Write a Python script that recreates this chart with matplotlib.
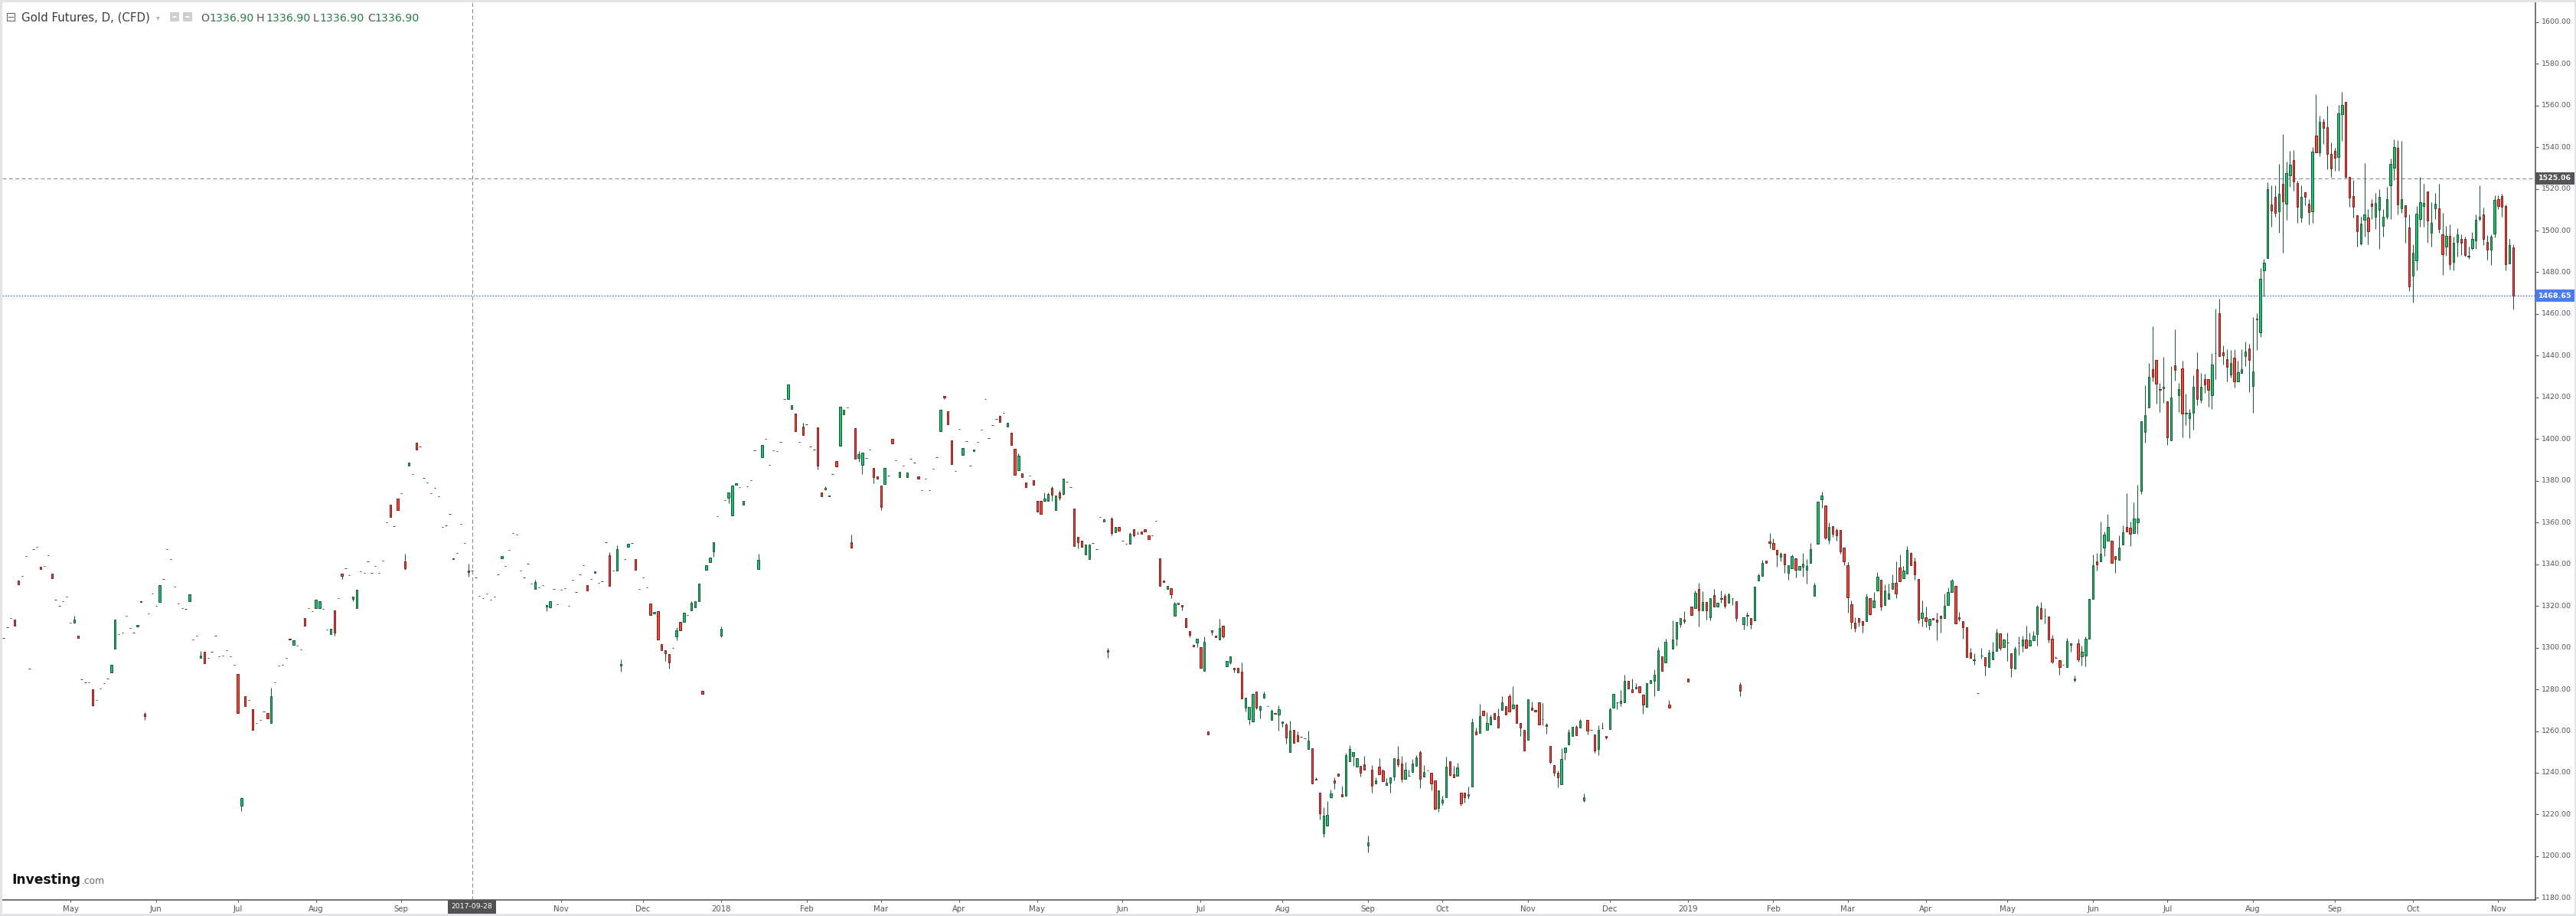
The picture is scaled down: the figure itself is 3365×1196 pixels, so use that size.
import numpy as np
import pandas as pd
import matplotlib
matplotlib.use("Agg")
import matplotlib.pyplot as plt
from matplotlib.patches import Rectangle, Circle
from matplotlib.transforms import Bbox, TransformedBbox

W, H = 3366, 1196

first_day = "2017-04-05"
skipped_days = ["2018-03-30"]      # weekday without a bar
crosshair_day = "2017-09-28"
crosshair_price = 1525.06
symbol = "Gold Futures, D, (CFD)"
y_ticks = list(range(1180, 1601, 20))

# one entry per daily bar: a number is a flat bar, (open, close) has no wicks,
# (open, high, low, close) is a full candle
ohlc_2017 = [
    1304.8, 1309.6, 1314.0, (1313.3, 1310.6), (1332.0, 1330.4), 1334.5, 1343.8, 1289.8, 1347.1, 1348.2,
    (1338.6, 1337.8), 1339.0, 1344.2, (1335.3, 1333.1), 1323.1, 1320.2, 1322.1, 1324.4, 1311.8,
    (1311.8, 1315.1, 1311.8, 1313.3), (1305.9, 1304.8), 1284.7, 1283.2, 1283.2,
    (1279.9, 1279.9, 1272.0, 1272.4), 1274.7, 1280.3, 1282.8, 1285.3, (1288.2, 1291.6),
    (1299.6, 1313.3), 1306.3, 1307.1, 1315.1, 1309.3, 1307.1, (1310.2, 1310.9), (1322.3, 1322.0),
    (1268.2, 1269.0, 1265.5, 1267.0), 1316.2, 1325.8, 1320.2, (1322.0, 1330.1), 1332.8, 1347.1,
    1342.6, 1329.1, 1321.0, 1318.8, 1318.5, (1322.4, 1325.4), 1304.0, 1305.9,
    (1295.2, 1298.4, 1295.2, 1296.3), (1297.9, 1292.5), 1295.0, 1298.2, 1305.6, 1295.7, 1296.3,
    1298.6, 1295.7, 1291.9, (1287.3, 1268.8), (1224.2, 1228.2, 1221.8, 1227.8), (1276.6, 1271.8),
    1274.7, (1270.3, 1260.4), 1263.7, 1265.5, 1269.3, (1268.5, 1266.1),
    (1264.0, 1280.6, 1264.0, 1276.6), 1283.2, 1291.3, 1291.7, 1295.0, (1304.1, 1303.9),
    (1301.4, 1303.4), 1301.1, 1299.0, (1314.0, 1310.4), 1319.1, 1317.3, (1318.8, 1323.1),
    (1318.8, 1322.4), 1318.5, 1308.5, (1306.3, 1308.9), (1317.7, 1317.7, 1305.6, 1307.3), 1323.9,
    (1335.3, 1335.3, 1332.8, 1334.5), 1338.2, 1334.9, (1323.4, 1324.3, 1322.1, 1324.3),
    (1318.8, 1327.6), 1336.6, 1335.7, 1341.2, 1335.7, 1339.0, 1336.0, 1341.9, 1360.0,
    (1368.7, 1362.8), 1358.1, (1371.3, 1365.8), 1374.2, (1341.2, 1344.9, 1337.4, 1338.2),
    (1387.4, 1388.6), 1383.1, (1398.2, 1395.1), 1396.6, 1381.2, 1379.0, 1373.9, 1376.5, 1372.4,
    1357.8, 1358.5, 1364.0, (1342.4, 1342.8), 1345.3, 1359.2, 1350.0,
    (1336.9, 1340.3, 1334.1, 1336.3), 1336.9, 1333.5, 1324.7, 1323.6, 1325.9, 1322.9, 1324.3,
    1335.0, (1342.7, 1343.8), 1339.0, 1346.7, 1354.8, 1354.1, 1336.8, 1333.5, 1340.1, 1330.6,
    (1328.0, 1332.5, 1328.0, 1331.3), 1328.7, 1329.8, (1319.6, 1320.3, 1317.6, 1320.3),
    (1319.2, 1322.1), 1328.0, 1320.7, 1327.6, 1328.4, 1319.9, 1332.4, 1326.5, 1335.0, 1339.4,
    (1329.8, 1327.3), 1332.8, (1335.7, 1336.4), 1331.0, 1331.7, 1350.4,
    (1344.2, 1345.6, 1329.5, 1329.5), 1336.8, (1336.8, 1348.9, 1336.8, 1347.1),
    (1291.3, 1294.4, 1288.4, 1292.0), 1342.3, (1348.2, 1349.7), 1350.0, (1342.3, 1337.2), 1328.0,
    1333.5, 1328.7, (1321.0, 1315.8), (1316.3, 1317.0), (1317.4, 1303.8), (1301.7, 1298.9),
    (1298.6, 1298.6, 1293.7, 1297.4), (1296.9, 1296.9, 1289.8, 1292.8), 1299.7,
    (1305.5, 1309.8, 1303.7, 1308.2), (1312.4, 1308.2), (1312.2, 1316.6), 1315.5,
    (1318.0, 1322.3, 1318.0, 1321.4), (1319.4, 1322.1), (1322.1, 1330.6), (1279.2, 1278.0),
    (1337.2, 1339.4), (1341.1, 1343.1), (1346.0, 1350.4, 1343.7, 1350.4), 1362.9,
]

ohlc_2018_a = [
    (1305.9, 1310.0, 1305.0, 1308.9), 1370.6, (1371.9, 1374.3, 1369.4, 1374.3), (1363.5, 1377.6),
    (1378.0, 1378.7), 1376.9, (1368.4, 1370.2), 1377.2, 1380.2, 1394.5,
    (1337.6, 1344.9, 1337.6, 1342.0), (1391.2, 1397.0), 1400.0, 1387.5, 1394.5, 1394.1, 1398.5,
    1419.1, (1419.1, 1426.1), (1414.3, 1416.1), (1412.1, 1403.7), 1398.5,
    (1405.9, 1407.7, 1401.8, 1401.8), 1407.0, 1396.3, 1394.8, (1405.5, 1405.5, 1385.5, 1387.1),
    (1374.3, 1372.4), (1376.0, 1377.2, 1375.4, 1376.5), (1372.9, 1372.7), 1383.1, (1389.3, 1387.0),
    (1396.9, 1415.5), (1412.0, 1413.9), 1415.0, (1350.4, 1354.2, 1347.8, 1347.8), (1405.1, 1390.4),
    (1390.8, 1394.2, 1389.2, 1392.6), (1387.5, 1393.4, 1383.3, 1393.4), 1390.8, 1394.8,
    (1386.0, 1386.0, 1378.9, 1381.6), (1382.0, 1380.9), (1377.6, 1377.6, 1366.1, 1367.5),
    (1378.3, 1386.0), 1382.4, (1400.0, 1397.8), 1389.7, (1381.6, 1384.2), 1387.1, (1381.6, 1383.8),
    1390.4, 1388.6, (1382.0, 1380.9), 1375.4, 1380.9, 1375.4, 1385.7, 1391.2, (1403.7, 1413.9),
    (1420.5, 1420.5, 1419.3, 1419.9), (1413.2, 1407.0), (1399.2, 1387.9), 1384.8, 1404.8,
    (1392.3, 1395.6), 1398.9, 1387.1, (1394.1, 1394.8), (1398.8, 1398.5), 1404.4, 1419.1, 1400.4,
    1406.6, 1409.5, (1411.0, 1408.1), 1412.5, (1405.9, 1407.7), (1402.9, 1397.0), (1395.2, 1382.7),
    (1384.9, 1393.1, 1384.9, 1391.9), (1383.5, 1381.6), (1379.1, 1376.9), 1382.4, (1380.2, 1378.0),
    (1370.2, 1365.1), (1370.2, 1364.0), (1370.2, 1374.3, 1370.2, 1371.3),
    (1370.2, 1374.3, 1370.2, 1373.5), (1376.5, 1377.3, 1370.2, 1373.2), (1365.8, 1372.8),
    (1374.3, 1375.4, 1370.9, 1371.7), (1373.5, 1380.9, 1373.2, 1380.9), 1379.4, 1376.9,
    (1366.6, 1348.6), (1353.0, 1353.0, 1347.5, 1350.4), (1351.1, 1348.2), (1344.5, 1349.3),
    (1342.3, 1349.3), 1350.0, 1347.4, 1362.5, (1360.3, 1362.0, 1360.3, 1361.4),
    (1298.6, 1299.7, 1295.2, 1297.9), (1361.8, 1362.5, 1353.7, 1354.8), (1355.2, 1357.8),
    (1357.8, 1355.9), 1351.1, 1349.7, (1349.7, 1355.2, 1349.7, 1354.4),
    (1356.7, 1356.7, 1353.0, 1353.7), (1354.4, 1355.6, 1354.4, 1354.4), (1355.6, 1354.4),
    (1356.7, 1355.6), (1353.7, 1351.9), 1353.7, 1360.7, (1342.7, 1329.5), (1332.1, 1331.3),
    (1328.0, 1329.5), (1328.4, 1328.4, 1323.6, 1325.4), (1315.2, 1321.8, 1315.2, 1321.0),
    (1320.7, 1321.4), (1320.3, 1320.3, 1317.7, 1319.6), (1314.1, 1309.7),
    (1307.8, 1307.8, 1304.9, 1306.0), (1301.2, 1300.5), (1302.3, 1304.1, 1300.2, 1304.1),
    (1300.1, 1290.2),
]

ohlc_2018_b = [
    (1288.7, 1305.2, 1288.7, 1302.7), (1260.0, 1258.5), (1308.2, 1308.2, 1306.0, 1307.6),
    (1305.7, 1305.0), (1303.8, 1313.7, 1303.8, 1309.3), (1310.4, 1310.4, 1304.5, 1305.2),
    (1290.9, 1293.5), (1292.8, 1295.7, 1292.0, 1295.7), (1290.2, 1290.2, 1288.2, 1289.7),
    (1290.2, 1288.2), (1288.4, 1292.9, 1275.5, 1275.5), (1271.3, 1275.9, 1269.5, 1275.9),
    (1265.8, 1271.5, 1263.3, 1271.5), (1264.7, 1277.8), (1278.8, 1278.8, 1270.6, 1271.3),
    (1270.2, 1272.2, 1266.2, 1271.8), (1275.9, 1278.9, 1275.5, 1277.7), 1271.8,
    (1265.2, 1270.4, 1265.2, 1269.6), (1268.6, 1268.2), (1268.0, 1272.2, 1260.3, 1270.4),
    (1263.8, 1264.5, 1262.2, 1264.5), (1263.0, 1264.0, 1254.1, 1256.8),
    (1249.8, 1264.9, 1249.8, 1260.1), (1260.4, 1254.2), (1257.9, 1259.7, 1254.9, 1254.9), 1257.4,
    1256.4, (1251.3, 1260.3, 1251.3, 1255.3), (1251.6, 1234.8), (1236.9, 1237.7, 1236.6, 1236.6),
    (1230.3, 1230.3, 1217.7, 1220.4), (1211.1, 1223.5, 1209.0, 1219.4),
    (1214.5, 1226.4, 1214.5, 1219.8), (1228.1, 1231.9, 1227.8, 1230.0),
    (1236.2, 1237.8, 1232.1, 1235.1), (1239.5, 1239.5, 1238.1, 1238.4),
    (1229.6, 1233.6, 1228.5, 1228.5), (1228.9, 1249.4, 1228.9, 1248.3),
    (1245.4, 1253.1, 1245.4, 1251.3), (1248.0, 1249.8, 1243.2, 1249.8), (1242.8, 1246.9),
    (1243.2, 1243.2, 1238.1, 1239.9), (1243.9, 1248.0, 1241.4, 1241.4),
    (1205.0, 1209.8, 1201.7, 1206.5), (1241.4, 1243.6, 1230.6, 1233.6),
    (1234.8, 1237.7, 1234.8, 1236.2), (1242.8, 1246.9, 1239.2, 1239.2),
    (1241.0, 1241.7, 1235.8, 1235.8), (1234.0, 1237.3, 1234.0, 1235.1),
    (1235.1, 1237.7, 1230.6, 1237.7), (1238.1, 1246.9, 1236.2, 1246.9),
    (1246.5, 1252.7, 1242.8, 1243.9), (1244.3, 1248.0, 1235.5, 1236.9),
    (1236.9, 1245.0, 1236.9, 1241.4), (1238.4, 1241.4, 1238.4, 1238.4),
    (1240.3, 1246.5, 1240.3, 1244.3), (1243.2, 1248.3, 1243.2, 1247.2),
    (1249.9, 1250.5, 1232.5, 1236.9), (1238.1, 1243.6, 1238.1, 1240.3), 1241.0,
    (1239.9, 1239.9, 1231.4, 1234.8), (1236.2, 1236.2, 1222.3, 1222.6),
    (1223.0, 1231.4, 1221.2, 1231.4), (1225.6, 1228.9, 1224.5, 1227.0),
    (1228.1, 1247.6, 1228.1, 1242.8), (1245.4, 1245.4, 1238.4, 1238.8),
    (1239.2, 1243.2, 1237.7, 1237.7), (1238.4, 1244.7, 1238.4, 1242.5),
    (1230.3, 1230.3, 1224.1, 1225.2), (1230.3, 1230.3, 1225.6, 1228.1),
    (1228.9, 1233.3, 1227.4, 1229.6), (1233.3, 1265.9, 1233.3, 1264.1),
    (1259.7, 1261.5, 1258.2, 1258.2), (1259.0, 1272.9, 1259.0, 1267.1), (1269.6, 1267.4),
    (1260.4, 1268.9, 1260.4, 1263.8), (1263.0, 1267.8, 1263.0, 1266.7), (1268.5, 1265.6),
    (1267.1, 1270.7, 1261.6, 1261.6), (1270.0, 1276.6, 1270.0, 1273.7), (1271.8, 1267.8),
    (1276.6, 1277.7, 1269.3, 1269.3), (1270.7, 1281.4, 1270.7, 1272.6), (1272.6, 1263.8),
    (1263.8, 1263.8, 1257.8, 1261.6), (1260.4, 1250.7), (1255.7, 1275.1),
    (1271.1, 1274.0, 1270.0, 1270.0), (1270.0, 1269.3), (1273.7, 1263.0),
    (1265.6, 1273.3, 1262.7, 1265.6), (1263.0, 1263.8, 1258.6, 1262.3),
    (1252.7, 1252.7, 1244.3, 1245.0), (1243.6, 1243.6, 1238.4, 1239.9),
    (1239.9, 1241.0, 1232.9, 1237.7), (1234.4, 1251.6, 1234.4, 1246.5),
    (1249.8, 1252.0, 1246.1, 1252.0), (1253.5, 1260.8, 1253.5, 1259.3), (1257.5, 1261.9),
    (1261.9, 1262.7, 1257.9, 1257.9), (1261.6, 1265.6, 1261.6, 1264.9),
    (1226.7, 1230.0, 1225.9, 1228.1), (1265.2, 1265.2, 1258.2, 1260.1), (1260.6, 1260.4),
    (1258.2, 1258.2, 1249.4, 1250.5), (1251.3, 1262.7, 1248.3, 1260.4),
    (1261.4, 1264.1, 1261.2, 1261.2), (1257.5, 1257.5, 1256.0, 1256.8),
    (1260.8, 1271.1, 1260.8, 1270.4), (1271.1, 1277.7), (1273.7, 1273.7, 1270.4, 1273.7),
    (1273.3, 1279.5, 1271.8, 1274.4), (1273.7, 1286.9, 1273.7, 1284.0), (1284.0, 1280.3),
    (1279.9, 1285.1, 1278.4, 1278.4), (1280.3, 1282.8, 1280.3, 1281.0), (1281.4, 1278.4),
    (1277.3, 1277.3, 1268.2, 1272.6), (1271.5, 1282.8), (1282.8, 1284.3),
    (1284.0, 1289.5, 1276.6, 1286.9), (1279.5, 1300.1, 1279.5, 1298.6), (1295.7, 1288.7),
    (1292.8, 1304.1, 1292.8, 1302.7), (1272.6, 1274.8, 1271.1, 1271.1),
    (1299.4, 1313.0, 1299.4, 1303.8), (1304.2, 1312.2, 1300.8, 1312.2),
    (1311.1, 1314.1, 1309.7, 1314.1), (1313.3, 1317.4, 1311.5, 1312.6), (1285.1, 1283.6),
]

ohlc_2019 = [
    (1319.8, 1315.5), (1318.8, 1327.3, 1318.8, 1326.2), (1328.0, 1331.0, 1310.0, 1317.7),
    (1317.7, 1326.9, 1317.7, 1321.8), (1321.8, 1321.8, 1313.3, 1317.7),
    (1314.4, 1323.6, 1313.0, 1323.6), (1325.1, 1328.0, 1319.6, 1319.6), (1319.6, 1321.4),
    (1323.2, 1327.3, 1321.4, 1323.6), (1324.7, 1325.8, 1318.8, 1319.9),
    (1321.4, 1326.2, 1321.4, 1325.4), (1323.6, 1323.6, 1320.3, 1323.6),
    (1322.1, 1322.1, 1312.6, 1314.1), (1282.1, 1283.2, 1276.6, 1279.2),
    (1311.1, 1314.4, 1308.6, 1314.4), (1315.3, 1317.0, 1310.4, 1315.5),
    (1314.1, 1314.1, 1308.9, 1311.1), (1313.0, 1329.1), (1332.1, 1335.4, 1332.1, 1334.6),
    (1334.3, 1342.0, 1334.3, 1340.5), (1341.6, 1340.5), (1350.8, 1354.8, 1347.5, 1350.1),
    (1350.1, 1352.3, 1347.1, 1347.1), (1346.7, 1346.7, 1338.7, 1344.5),
    (1343.4, 1345.6, 1341.2, 1344.9), (1344.9, 1344.9, 1335.7, 1339.8),
    (1335.7, 1339.4, 1332.4, 1339.4), (1337.9, 1344.5, 1337.9, 1343.8),
    (1342.7, 1342.7, 1333.5, 1337.2), (1337.2, 1339.0), (1338.7, 1345.3, 1333.9, 1340.1),
    (1337.2, 1342.3, 1330.6, 1339.0), (1340.5, 1350.1, 1340.5, 1347.1),
    (1324.7, 1331.0, 1324.7, 1329.9), (1349.7, 1369.9), (1371.2, 1374.7, 1366.9, 1372.8),
    (1368.0, 1368.0, 1351.9, 1352.6), (1351.5, 1360.0, 1349.7, 1357.8),
    (1358.1, 1358.1, 1353.0, 1354.5), (1356.3, 1357.0, 1351.2, 1353.7),
    (1356.3, 1356.3, 1344.9, 1346.0), (1347.8, 1347.8, 1339.4, 1341.2),
    (1339.4, 1340.9, 1316.6, 1324.0), (1320.7, 1322.5, 1308.9, 1312.2),
    (1311.9, 1314.4, 1307.5, 1309.3), (1314.1, 1314.1, 1310.0, 1312.2),
    (1312.6, 1312.6, 1307.1, 1310.8), (1312.6, 1325.8, 1312.6, 1324.3),
    (1323.6, 1323.6, 1315.5, 1315.9), (1319.2, 1326.6, 1319.2, 1322.5),
    (1327.3, 1336.1, 1327.3, 1333.9), (1332.4, 1332.4, 1317.7, 1319.6),
    (1320.3, 1330.2, 1320.3, 1327.3), (1323.2, 1330.6, 1323.2, 1325.8),
    (1328.0, 1335.0, 1328.0, 1331.0), (1331.0, 1341.2, 1323.6, 1325.8),
    (1338.3, 1344.5, 1331.7, 1331.7), (1333.2, 1339.0, 1333.2, 1336.8),
    (1335.4, 1348.6, 1335.4, 1346.7), (1345.3, 1345.6, 1339.4, 1339.4),
    (1341.2, 1343.1, 1332.4, 1335.0), (1332.8, 1332.8, 1311.5, 1313.3),
    (1314.1, 1322.5, 1310.0, 1316.6), (1314.4, 1319.6, 1309.7, 1312.6),
    (1310.8, 1313.7, 1308.6, 1313.7), (1314.1, 1313.3), (1313.3, 1316.6, 1303.4, 1312.2),
    (1315.2, 1315.2, 1307.1, 1314.1), (1314.1, 1325.8, 1314.1, 1319.9),
    (1320.3, 1328.8, 1320.3, 1326.6), (1326.6, 1332.8, 1326.6, 1332.1), (1329.5, 1311.5),
    (1314.4, 1317.0, 1312.6, 1313.7), (1312.6, 1312.6, 1304.2, 1309.7), (1309.7, 1295.3),
    (1297.6, 1299.7, 1295.0, 1295.0), (1294.0, 1297.2, 1291.7, 1294.2), 1278.1,
    (1296.0, 1299.7, 1294.6, 1296.1), (1295.3, 1295.3, 1286.5, 1291.3),
    (1290.6, 1299.0, 1290.6, 1297.6), (1294.2, 1302.7, 1294.2, 1297.9),
    (1298.3, 1308.9, 1298.3, 1307.1), (1306.7, 1306.7, 1298.6, 1299.7),
    (1300.1, 1304.2, 1300.1, 1303.8), (1302.5, 1307.1, 1293.5, 1302.3),
    (1297.2, 1297.2, 1285.8, 1290.2), (1289.8, 1300.5, 1289.8, 1299.4),
    (1302.5, 1305.3, 1296.4, 1302.3), (1300.8, 1305.6, 1297.9, 1303.8),
    (1303.8, 1310.4, 1299.7, 1299.7), (1300.8, 1307.1, 1300.8, 1303.4),
    (1303.4, 1307.8, 1303.4, 1305.6), (1306.4, 1320.3, 1300.8, 1319.6),
    (1318.8, 1321.8, 1313.7, 1313.7), (1315.2, 1318.9, 1311.5, 1315.2),
    (1314.8, 1314.8, 1302.3, 1303.8), (1304.2, 1306.0, 1292.4, 1293.1),
    (1295.2, 1295.7, 1295.0, 1295.0), (1293.9, 1293.9, 1286.9, 1290.6), 1291.7,
    (1290.6, 1304.5, 1290.6, 1303.0), (1301.2, 1302.3, 1297.9, 1301.9),
    (1284.3, 1286.5, 1283.8, 1285.1), (1301.9, 1304.2, 1293.4, 1294.5),
    (1295.9, 1301.1, 1291.5, 1298.2), (1296.3, 1305.5, 1291.1, 1304.2), (1304.4, 1323.2),
    (1323.2, 1344.5, 1323.2, 1339.5), (1341.4, 1345.3, 1336.8, 1339.9),
    (1341.2, 1360.6, 1341.2, 1345.1), (1348.0, 1355.8, 1344.1, 1354.3),
    (1351.4, 1364.1, 1351.4, 1357.9), (1351.4, 1340.8), (1343.9, 1343.9, 1335.7, 1342.6),
    (1342.2, 1353.9, 1342.2, 1348.1), (1349.3, 1358.7, 1349.3, 1355.2),
    (1357.9, 1374.1, 1355.6, 1355.6), (1357.5, 1360.6, 1348.7, 1354.5),
    (1354.8, 1369.8, 1354.8, 1362.1), (1360.2, 1377.9, 1354.5, 1361.8),
    (1375.2, 1408.6, 1373.7, 1408.6), (1403.4, 1425.9, 1398.4, 1411.5),
    (1415.0, 1436.5, 1415.0, 1429.8), (1433.6, 1454.2, 1427.5, 1429.9),
    (1438.0, 1438.0, 1416.9, 1426.5), (1423.8, 1426.9, 1413.1, 1423.6),
    (1424.4, 1439.4, 1417.3, 1425.1), (1418.2, 1418.2, 1397.1, 1401.0),
    (1399.4, 1435.1, 1399.4, 1419.8), (1435.5, 1452.8, 1428.0, 1433.0),
    (1421.1, 1426.9, 1413.1, 1423.8), (1434.0, 1437.5, 1401.0, 1412.1),
    (1412.3, 1421.7, 1406.7, 1412.5), (1410.0, 1414.4, 1400.4, 1412.5),
    (1412.5, 1430.7, 1404.4, 1425.0), (1433.4, 1441.7, 1416.3, 1419.2),
    (1418.8, 1431.7, 1417.3, 1425.0), (1428.8, 1431.5, 1422.1, 1426.3),
    (1428.8, 1428.8, 1415.4, 1423.6), (1421.1, 1441.3, 1414.4, 1435.9),
    (1441.1, 1462.4, 1428.8, 1441.3), (1460.5, 1467.2, 1439.8, 1439.8),
    (1441.7, 1444.8, 1435.9, 1440.0), (1438.4, 1443.2, 1427.8, 1434.6),
    (1431.1, 1442.6, 1429.4, 1436.5), (1439.2, 1443.2, 1424.6, 1427.5),
    (1427.5, 1437.5, 1427.5, 1432.1), (1431.7, 1443.2, 1431.7, 1433.6),
    (1439.8, 1446.7, 1435.1, 1442.1), (1443.6, 1445.5, 1422.5, 1437.8),
    (1425.5, 1458.6, 1412.5, 1432.6), (1457.4, 1460.5, 1442.8, 1457.6),
    (1451.3, 1482.0, 1449.0, 1476.8), (1481.0, 1486.4, 1468.6, 1484.5),
    (1486.8, 1523.3, 1486.8, 1519.7), (1512.4, 1521.6, 1501.8, 1509.5),
    (1516.2, 1521.6, 1506.6, 1508.5), (1509.1, 1531.9, 1498.9, 1517.5),
    (1522.4, 1546.3, 1489.3, 1514.1), (1512.9, 1533.1, 1505.3, 1527.7),
    (1526.4, 1538.1, 1521.0, 1531.6), (1533.9, 1538.7, 1519.1, 1523.5),
    (1522.9, 1523.9, 1503.7, 1511.4), (1506.4, 1521.6, 1504.1, 1516.2),
    (1518.5, 1518.5, 1512.0, 1516.2), (1512.7, 1515.2, 1502.8, 1508.7),
    (1509.1, 1540.2, 1503.7, 1537.7), (1545.4, 1565.4, 1537.3, 1537.3),
    (1537.3, 1555.0, 1535.8, 1552.1), (1552.1, 1553.7, 1541.6, 1549.2),
    (1549.6, 1560.0, 1529.3, 1536.9), (1536.9, 1542.1, 1525.8, 1529.6),
    (1538.3, 1539.6, 1528.5, 1535.0), (1535.4, 1560.4, 1528.5, 1556.1),
    (1555.9, 1566.5, 1543.1, 1560.4), (1561.7, 1561.7, 1525.4, 1525.6),
    (1525.8, 1525.8, 1511.4, 1515.8), (1516.6, 1524.3, 1506.2, 1511.4),
    (1507.2, 1507.2, 1492.2, 1499.5), (1493.7, 1506.6, 1493.1, 1503.3),
    (1505.3, 1532.3, 1497.0, 1507.6), (1506.2, 1510.4, 1493.5, 1499.5),
    (1512.9, 1515.0, 1505.4, 1511.8), (1506.6, 1518.1, 1500.8, 1513.3),
    (1509.8, 1520.0, 1491.2, 1516.2), (1502.2, 1510.4, 1497.0, 1506.6),
    (1506.6, 1521.0, 1505.6, 1515.2), (1521.6, 1534.4, 1505.6, 1531.9),
    (1530.0, 1543.7, 1524.2, 1540.2), (1539.8, 1543.5, 1507.6, 1512.4),
    (1510.8, 1543.1, 1508.5, 1515.2), (1512.0, 1512.0, 1494.1, 1506.6),
    (1501.6, 1507.6, 1470.9, 1473.2), (1478.4, 1493.5, 1465.3, 1489.3),
    (1485.5, 1511.8, 1481.0, 1508.0), (1505.6, 1525.8, 1501.8, 1513.7),
    (1511.6, 1522.3, 1501.8, 1513.1), (1518.7, 1518.7, 1494.1, 1504.7),
    (1498.9, 1513.7, 1492.4, 1503.7), (1510.8, 1518.1, 1505.6, 1512.7),
    (1510.8, 1522.3, 1498.9, 1500.8), (1498.3, 1508.5, 1478.7, 1488.7),
    (1492.2, 1502.2, 1487.8, 1497.6), (1497.6, 1503.1, 1481.2, 1483.9),
    (1484.9, 1497.0, 1481.0, 1494.1), (1494.5, 1501.2, 1487.4, 1498.3),
    (1496.0, 1498.3, 1488.3, 1494.1), (1496.0, 1497.0, 1487.4, 1488.1),
    (1487.6, 1492.2, 1486.4, 1487.8), (1491.6, 1499.3, 1490.7, 1496.0),
    (1495.1, 1507.6, 1491.2, 1505.1), (1505.4, 1521.6, 1504.7, 1506.6),
    (1507.6, 1511.2, 1493.2, 1496.0), (1494.5, 1497.9, 1486.2, 1490.7),
    (1490.7, 1498.3, 1483.6, 1497.0), (1498.5, 1517.0, 1496.6, 1514.8),
    (1515.2, 1517.0, 1510.4, 1511.8), (1516.6, 1517.6, 1506.6, 1511.4),
    (1511.8, 1512.4, 1481.0, 1483.9), (1484.3, 1496.0, 1484.3, 1493.1),
    (1492.0, 1493.5, 1462.0, 1468.65),
]

up_fill, up_edge = "#18c46f", "#1c5634"
dn_fill, dn_edge = "#f4483c", "#7a1d16"
wick_col = "#1c5634"
axis_col = "#4e4e4e"
label_col = "#555555"


def expand(rows):
    out = []
    for r in rows:
        if isinstance(r, (int, float)):
            out.append((r, r, r, r))
        elif len(r) == 2:
            out.append((r[0], max(r), min(r), r[1]))
        else:
            out.append(tuple(r))
    return out


bars = np.array(expand(ohlc_2017) + expand(ohlc_2018_a) + expand(ohlc_2018_b) + expand(ohlc_2019))
opens, highs, lows, closes = bars.T
n = len(bars)
days = pd.bdate_range(first_day, periods=n + len(skipped_days))
days = days[~days.isin(pd.to_datetime(skipped_days))][:n]
x = np.arange(n)


def fx(px):
    return px / W


def fy(py):
    return 1 - py / H


fig = plt.figure(figsize=(W / 100, H / 100), dpi=100)
fig.patch.set_facecolor("white")
ax = fig.add_axes([fx(3), fy(1175), fx(3312) - fx(3), fy(3) - fy(1175)])
ax.set_xlim(-0.33, 681.0)
ax.set_ylim(1179.03, 1609.44)

# candles
up = closes >= opens
ax.vlines(x, lows, highs, color=wick_col, linewidth=0.75, zorder=2)
ax.bar(x, np.abs(closes - opens), bottom=np.minimum(opens, closes), width=0.48,
       color=[up_fill if u else dn_fill for u in up],
       edgecolor=[up_edge if u else dn_edge for u in up], linewidth=0.7, zorder=3)

# crosshair and last price line
cross_i = int(np.flatnonzero(days == pd.Timestamp(crosshair_day))[0])
ax.axvline(cross_i, color="#8a8a8a", linewidth=0.8, dashes=(4.5, 3), zorder=1)
ax.axhline(crosshair_price, color="#8a8a8a", linewidth=0.8, dashes=(4.5, 3), zorder=1)
ax.axhline(closes[-1], color="#3f6fe6", linewidth=0.8, dashes=(1.6, 1.6), zorder=1)

# axes styling
for s in ["top", "left"]:
    ax.spines[s].set_visible(False)
for s in ["right", "bottom"]:
    ax.spines[s].set_color(axis_col)
    ax.spines[s].set_linewidth(1.1)
ax.yaxis.tick_right()
ax.set_yticks(y_ticks)
ax.tick_params(axis="y", length=3, width=0.8, color=label_col, labelright=False)

starts = np.flatnonzero(np.r_[True, days.month[1:] != days.month[:-1]])[1:]
starts = [s for s in starts if abs(s - cross_i) > 10]
ax.set_xticks(starts)
ax.set_xticklabels([str(days[s].year) if days[s].month == 1 else days[s].strftime("%b") for s in starts])
ax.tick_params(axis="x", length=2.5, width=0.8, color=label_col, labelcolor=label_col,
               labelsize=7.3, pad=2.2)

# price labels on the right, clipped at the bottom axis
clip = TransformedBbox(Bbox([[1.0, 0.0], [1.03, 1.0]]), ax.transAxes)
ytr = ax.get_yaxis_transform()
for v in y_ticks:
    t = fig.text(1 + 8 / 3309, v, f"{v:.2f}", transform=ytr, ha="left", va="center",
                 fontsize=6.8, color=label_col)
    t.set_clip_box(clip)
    t.set_clip_on(True)

box_w = 51 / 3309
for price, face in [(crosshair_price, "#555555"), (closes[-1], "#4a7bf0")]:
    fig.add_artist(Rectangle((1.0, price - 2.9), box_w, 5.8, transform=ytr,
                             facecolor=face, edgecolor="none", zorder=5))
    fig.text(1.0 + box_w / 2, price, f"{price:.2f}", transform=ytr, ha="center", va="center",
             fontsize=6.8, color="white", fontweight="bold", zorder=6)

# date label of the crosshair
xtr = ax.get_xaxis_transform()
fig.add_artist(Rectangle((cross_i - 6.4, -18 / 1172), 12.8, 18 / 1172, transform=xtr,
                         facecolor="#525252", edgecolor="none", zorder=5))
fig.text(cross_i, -9 / 1172, days[cross_i].strftime("%Y-%m-%d"), transform=xtr,
         ha="center", va="center", fontsize=6.7, color="white", zorder=6)

# legend line
fig.add_artist(Rectangle((fx(9), fy(27)), fx(10), 10 / H, transform=fig.transFigure,
                         facecolor="white", edgecolor="#666666", linewidth=0.8))
fig.add_artist(plt.Line2D([fx(11), fx(17)], [fy(22), fy(22)], transform=fig.transFigure,
                          color="#666666", linewidth=0.8))
fig.text(fx(28), fy(28), symbol, fontsize=10.8, color="#3a3a3a", va="baseline")
fig.text(fx(204), fy(26), "\u25be", fontsize=7, color="#b5b5b5", va="baseline")
for left in (222, 239):
    fig.add_artist(Rectangle((fx(left), fy(28)), fx(12), 12 / H, transform=fig.transFigure,
                             facecolor="#cfcfcf", edgecolor="none"))
    fig.add_artist(Circle((fx(left + 6), fy(22)), 3 / W, transform=fig.transFigure,
                          facecolor="white", edgecolor="none"))
vals = [opens[cross_i], highs[cross_i], lows[cross_i], closes[cross_i]]
for (lx, vx), letter, v in zip([(262, 273.7), (335, 347), (408.5, 417.4), (480, 489.7)], "OHLC", vals):
    fig.text(fx(lx), fy(28), letter, fontsize=10.2, color="#555555", va="baseline")
    fig.text(fx(vx), fy(28), f"{v:.2f}", fontsize=10.2, color="#2a7a4c", va="baseline")

# logo
fig.text(fx(15), fy(1153.5), "Investing", fontsize=12.3, fontweight="bold", color="#111111",
         va="baseline")
fig.text(fx(106.5), fy(1153.5), ".com", fontsize=8.8, color="#6a6a6a", va="baseline")

# outer frame
fig.add_artist(Rectangle((0, 0), 1, 1, transform=fig.transFigure, fill=False,
                         edgecolor="#e1e3e6", linewidth=4.3))

fig.savefig("out.png", dpi=100, facecolor="white")
